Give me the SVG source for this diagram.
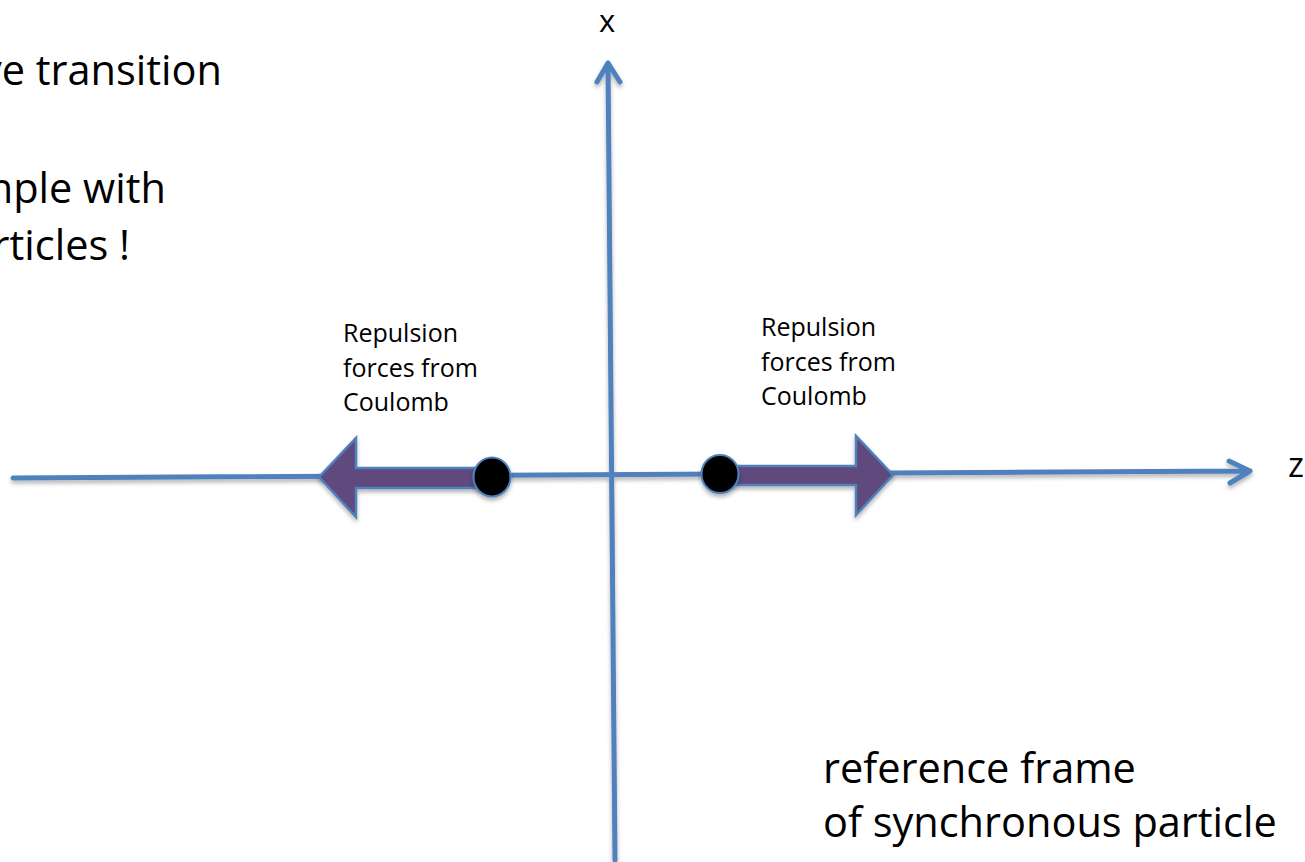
<svg xmlns="http://www.w3.org/2000/svg" width="1305" height="862" viewBox="0 0 1305 862">
<style>
.big{font-family:"Open Sans","Liberation Sans",sans-serif;font-size:41.5px;fill:#000}
.small{font-family:"Open Sans","Liberation Sans",sans-serif;font-size:25px;fill:#000}
.axis{fill:none;stroke:#4F81BD;stroke-width:5;stroke-linecap:round;stroke-linejoin:round}
.force{fill:#604A7B;stroke:#4F81BD;stroke-width:2.5;stroke-linejoin:miter}
.particle{fill:#000;stroke:#4F81BD;stroke-width:2}
</style>
<defs>
<filter id="sh" x="-10%" y="-10%" width="120%" height="130%">
<feDropShadow dx="0" dy="3" stdDeviation="2" flood-color="#000" flood-opacity="0.3"/>
</filter>
</defs>
<rect width="1305" height="862" fill="#fff"/>
<g id="connectors" filter="url(#sh)">
<path id="z-axis" class="axis" d="M13,478 L1250,471 M1229,461 L1250,471 L1230,483"/>
<path id="x-axis" class="axis" d="M615,860 L608,63 M597,82 L608,63 L620,82"/>
</g>
<g id="force-left" filter="url(#sh)">
<polygon class="force" points="319,477 356,438 356,468 482,468 482,488 356,488 356,517"/>
</g>
<g id="force-right" filter="url(#sh)">
<polygon class="force" points="893,475 856,436 856,466 728,466 728,485 856,485 856,515"/>
</g>
<g id="particle-left" filter="url(#sh)">
<ellipse class="particle" cx="492" cy="477" rx="18.5" ry="19.5"/>
</g>
<g id="particle-right" filter="url(#sh)">
<ellipse class="particle" cx="720" cy="474" rx="18.5" ry="19"/>
</g>
<g id="label-x"><text class="big" x="607" y="32" text-anchor="middle" style="font-size:31px">x</text></g>
<g id="label-z"><text class="big" x="1296" y="477" text-anchor="middle" style="font-size:34px">z</text></g>
<g id="label-left">
<text class="small" x="343" y="342">Repulsion</text>
<text class="small" x="343" y="377">forces from</text>
<text class="small" x="343" y="411">Coulomb</text>
</g>
<g id="label-right">
<text class="small" x="761" y="336">Repulsion</text>
<text class="small" x="761" y="371">forces from</text>
<text class="small" x="761" y="405">Coulomb</text>
</g>
<g id="text-topleft">
<text class="big" x="222" y="85" text-anchor="end">ve transition</text>
<text class="big" x="166" y="203" text-anchor="end">nple with</text>
<text class="big" x="130" y="260" text-anchor="end">rticles !</text>
</g>
<g id="text-frame">
<text class="big" x="823" y="783">reference frame</text>
<text class="big" x="823" y="837">of synchronous particle</text>
</g>
</svg>
